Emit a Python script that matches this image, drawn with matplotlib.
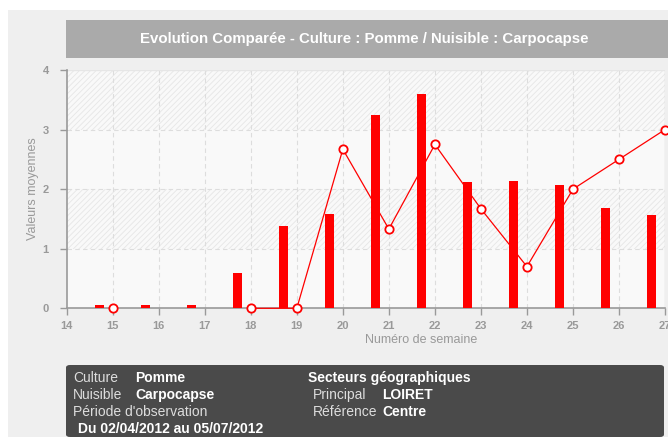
import matplotlib
matplotlib.use("Agg")
import matplotlib.pyplot as plt
from matplotlib.patches import Rectangle, FancyBboxPatch
import numpy as np

weeks = [15, 16, 17, 18, 19, 20, 21, 22, 23, 24, 25, 26, 27]
bar_values = [0.05, 0.05, 0.05, 0.60, 1.38, 1.59, 3.25, 3.59, 2.12, 2.14, 2.07, 1.69, 1.57]
line_values = [0.0, np.nan, np.nan, 0.0, 0.0, 2.67, 1.33, 2.75, 1.67, 0.70, 2.0, 2.5, 3.0]
x_ticks = list(range(14, 28))
y_ticks = [0, 1, 2, 3, 4]

title = "Evolution Comparée - Culture : Pomme / Nuisible : Carpocapse"

plt.rcParams['font.family'] = ['Liberation Sans', 'DejaVu Sans']
plt.rcParams['hatch.linewidth'] = 0.6
plt.rcParams['hatch.color'] = '#e6e6e6'

W, H = 668, 437
fig = plt.figure(figsize=(W / 100, H / 100), dpi=100)
fig.patch.set_facecolor('white')

def fx(px):
    return px / W

def fy(py):
    return 1 - py / H

# outer gray panel
fig.patches.append(Rectangle((fx(8), 0), fx(660), fy(10), transform=fig.transFigure,
                             facecolor='#efefef', edgecolor='none', zorder=-2))
# title box
fig.patches.append(Rectangle((fx(66), fy(58)), fx(602), fy(20) - fy(58), transform=fig.transFigure,
                             facecolor='#aaaaaa', edgecolor='none', zorder=-1))
fig.text(fx(364), fy(39), title, color='white', fontsize=10.8, fontweight='bold',
         ha='center', va='center')

# info box
fig.patches.append(FancyBboxPatch((fx(66), 0), fx(598), fy(365),
                                  boxstyle="round,pad=0,rounding_size=0.006",
                                  transform=fig.transFigure,
                                  facecolor='#4a4a4a', edgecolor='none', zorder=-1))
lab = dict(color='#dddddd', fontsize=10, va='center')
val = dict(color='white', fontsize=10, va='center', fontweight='bold')
fig.text(fx(73), fy(378), "Culture", **lab)
fig.text(fx(135), fy(378), "Pomme", **val)
fig.text(fx(73), fy(395), "Nuisible", **lab)
fig.text(fx(135), fy(395), "Carpocapse", **val)
fig.text(fx(73), fy(412), "Période d'observation", **lab)
fig.text(fx(78), fy(429), "Du 02/04/2012 au 05/07/2012", **val)
fig.text(fx(308), fy(378), "Secteurs géographiques", **val)
fig.text(fx(313), fy(395), "Principal", **lab)
fig.text(fx(382), fy(395), "LOIRET", **val)
fig.text(fx(313), fy(412), "Référence", **lab)
fig.text(fx(382), fy(412), "Centre", **val)

# axes
left, right = 66.7, 665
top, bottom = 70, 308.3
ax = fig.add_axes([fx(left), fy(bottom), fx(right - left), (bottom - top) / H])
ax.set_zorder(2)
ax.set_facecolor('#f9f9f9')
ax.set_xlim(14, 27)
ax.set_ylim(0, 4)

for lo in (1, 3):
    ax.axhspan(lo, lo + 1, facecolor='#f9f9f9', hatch='//////', edgecolor='#e6e6e6',
               linewidth=0, zorder=0)

for x in x_ticks[1:-1]:
    ax.axvline(x, color='#dddddd', lw=0.8, ls=(0, (4, 3)), zorder=1)
ax.axvline(x_ticks[-1], color='#d8d8d8', lw=1.0, zorder=1)
ax.axhline(y_ticks[-1], color='#e6e6e6', lw=1.0, zorder=1)
for y in y_ticks[1:-1]:
    ax.axhline(y, color='#dddddd', lw=0.8, ls=(0, (4, 3)), zorder=1)

ax.bar(np.array(weeks) - 0.29, bar_values, width=0.19, color='#ff0000', zorder=5,
       linewidth=0)
ax.plot(weeks, line_values, color='#ff0000', lw=0.9, marker='o', markersize=6,
        markerfacecolor='white', markeredgecolor='#ff0000', markeredgewidth=1.3,
        zorder=6, clip_on=False)

ax.set_xticks(x_ticks)
ax.set_yticks(y_ticks)
ax.tick_params(colors='#999999', labelsize=8, length=5, width=1, direction='out')
ax.tick_params(axis='y', pad=8)
ax.tick_params(axis='x', pad=4)
for lbl in ax.get_xticklabels() + ax.get_yticklabels():
    lbl.set_color('#999999')
    lbl.set_fontweight('bold')
for s in ('top', 'right'):
    ax.spines[s].set_visible(False)
for s in ('left', 'bottom'):
    ax.spines[s].set_color('#999999')
    ax.spines[s].set_linewidth(1.2)

fig.text(fx(33), fy(189), "Valeurs moyennes", rotation=90, color='#999999', fontsize=9,
         ha='center', va='center')
fig.text(fx(421), fy(340), "Numéro de semaine", color='#999999', fontsize=9,
         ha='center', va='center')

fig.savefig('out.png', dpi=100)
